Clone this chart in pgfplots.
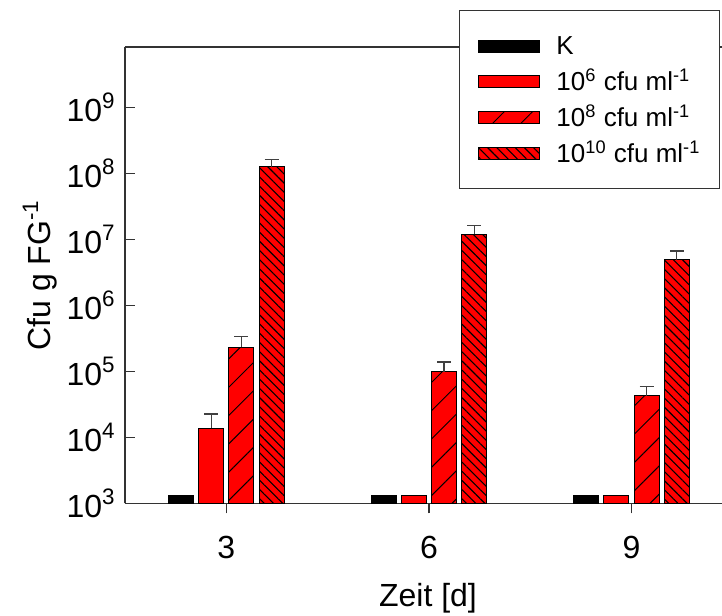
\documentclass[border=0pt]{standalone}
\usepackage{pgfplots}
\pgfplotsset{compat=1.18}
\usepackage{pgfplotstable}
\usepackage{fontspec}
\setmainfont{Liberation Sans}
\usetikzlibrary{patterns.meta}

\pgfplotstableread{
x  K    A     Ae   B      Be     C       Ce
3  1300 13800 8900 233000 108000 1.27e8  3.5e7
6  1300 1300  0    99000  40000  1.2e7   4.2e6
9  1300 1300  0    43000  16700  4.94e6  1.76e6
}\datatable

\newcommand{\lstrut}{\rule[-4.45pt]{0pt}{17.85pt}\hspace*{8pt}}

\pgfplotsset{
  mylegend/.style={legend image code/.code={\draw[##1] (0pt,-3pt) rectangle (30.5pt,3pt);}},
  errs/.style={error bars/.cd, y dir=plus, y explicit,
     error bar style={draw=black!75, line width=0.6pt, solid},
     error mark options={draw=black!75, line width=0.6pt, mark size=3.5pt, rotate=90}},
}

\begin{document}
\begin{tikzpicture}
\begin{axis}[
  scale only axis, width=298.5pt, height=228.25pt,
  ymode=log, log origin=infty,
  ymin=1e3, ymax=8.26e9, xmin=1.5, xmax=10.34,
  axis x line*=box, axis y line*=left,
  axis line style={black!80, line width=0.6pt},
  every tick/.style={black!80, line width=0.6pt},
  tick align=inside, major tick length=5pt,
  xtick={3,6,9}, xticklabels={3,6,9},
  xtick pos=bottom, ytick pos=left,
  ytick={1e3,1e4,1e5,1e6,1e7,1e8,1e9},
  yticklabels={10\textsuperscript{3},10\textsuperscript{4},10\textsuperscript{5},10\textsuperscript{6},10\textsuperscript{7},10\textsuperscript{8},10\textsuperscript{9}},
  yminorticks=false,
  ticklabel style={font=\fontsize{16pt}{19pt}\selectfont},
  yticklabel style={anchor=east, inner sep=0pt, xshift=-4.5pt},
  xticklabel style={anchor=center, inner sep=0pt, yshift=-17.25pt},
  xlabel={Zeit [d]},
  xlabel style={at={(rel axis cs:0.5075,0)}, anchor=center, yshift=-47.25pt, font=\fontsize{16pt}{19pt}\selectfont},
  ylabel={Cfu g FG\textsuperscript{-1}},
  ylabel style={at={([xshift=-42.5pt]rel axis cs:0,0.5)}, anchor=center, font=\fontsize{16pt}{19pt}\selectfont},
  ybar, bar width=0.37,
  legend cell align=left,
  legend style={
    at={(1,1)}, anchor=north east, xshift=-1pt, yshift=18.5pt,
    draw=black!80, line width=0.6pt, fill=white,
    inner xsep=9.5pt, inner ysep=8.8pt,
    font=\fontsize{13pt}{15pt}\selectfont,
    nodes={inner sep=0pt, text depth=},
    row sep=0pt,
  },
]
\addplot[mylegend, bar shift=-0.67, fill=black, draw=black, line width=0.5pt]
  table[x=x, y=K] {\datatable};
\addlegendentry{\lstrut K}
\addplot[mylegend, bar shift=-0.225, fill=red, draw=black, line width=0.5pt]
  table[x=x, y=A] {\datatable};
\addlegendentry{\lstrut 10\textsuperscript{6} cfu ml\textsuperscript{-1}}
\addplot[mylegend, bar shift=0.225, fill=red, draw=black, line width=0.5pt,
  postaction={pattern={Lines[angle=45,distance=10pt,line width=0.5pt]}, pattern color=black}, errs]
  table[x=x, y=B, y error=Be] {\datatable};
\addlegendentry{\lstrut 10\textsuperscript{8} cfu ml\textsuperscript{-1}}
\addplot[mylegend, bar shift=0.67, fill=red, draw=black, line width=0.5pt,
  postaction={pattern={Lines[angle=-45,distance=3.25pt,line width=0.55pt]}, pattern color=black}, errs]
  table[x=x, y=C, y error=Ce] {\datatable};
\addlegendentry{\lstrut 10\textsuperscript{10} cfu ml\textsuperscript{-1}}
\addplot[forget plot, bar shift=-0.225, draw=none, fill=none, errs]
  coordinates {(3,13800) +- (0,8900)};
\end{axis}
\pgfresetboundingbox
\path ([shift={(-62.5pt,-56.25pt)}]current axis.south west) rectangle ([shift={(0pt,23.5pt)}]current axis.north east);
\end{tikzpicture}
\end{document}
